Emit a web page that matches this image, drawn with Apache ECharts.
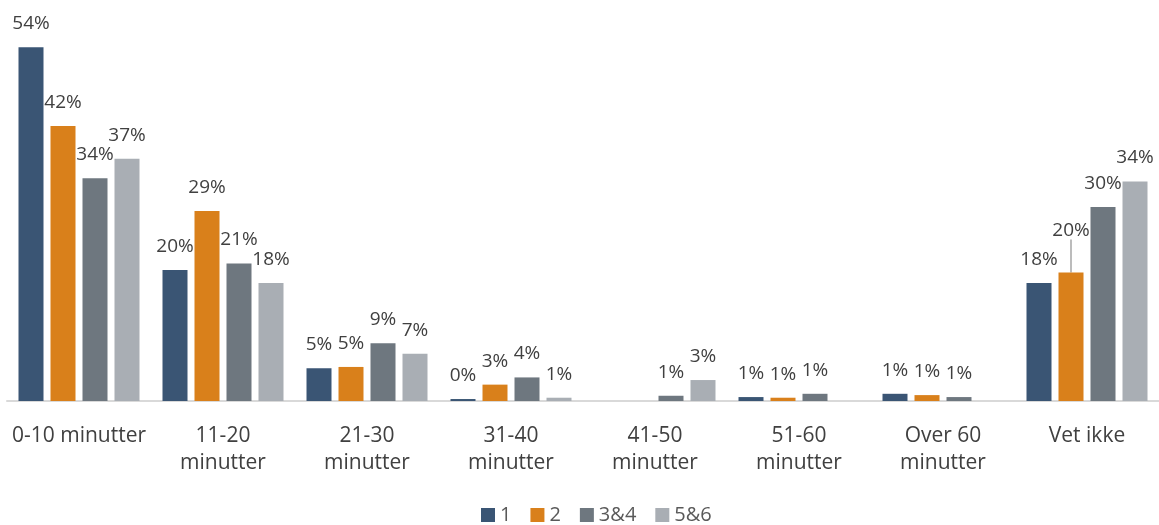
<!DOCTYPE html>
<html>
<head>
<meta charset="utf-8">
<script src="https://cdn.jsdelivr.net/npm/echarts@6/dist/echarts.min.js"></script>
<style>html,body{margin:0;padding:0;background:#fff}#c{width:1159px;height:525px}</style>
</head>
<body>
<div id="c"></div>
<script>
const categories = ['0-10 minutter', '11-20\nminutter', '21-30\nminutter', '31-40\nminutter', '41-50\nminutter', '51-60\nminutter', 'Over 60\nminutter', 'Vet ikke'];
const seriesNames = ['1', '2', '3&4', '5&6'];
const s1 = [54, 20, 5, 0.3, null, 0.6, 1.1, 18];
const s2 = [42, 29, 5.2, 2.5, null, 0.5, 0.9, 19.6];
const s3 = [34, 21, 8.8, 3.6, 0.8, 1.1, 0.6, 29.6];
const s4 = [37, 18, 7.2, 0.5, 3.2, null, null, 33.5];
const colors = ['#3A5574', '#D9801B', '#6E777F', '#A9AEB4'];

const chart = echarts.init(document.getElementById('c'));
const font = 'Open Sans';
const all = [s1, s2, s3, s4];
const series = all.map((d, i) => ({
  name: seriesNames[i],
  type: 'bar',
  data: d.map((v, j) => (i === 1 && j === 7)
    ? { value: v, labelLine: { show: true, lineStyle: { color: '#A6A6A6', width: 1.5 } } }
    : v),
  barWidth: 25,
  barGap: '28%',
  itemStyle: { color: colors[i] },
  label: {
    show: true,
    position: 'top',
    distance: 14,
    color: '#404040',
    fontSize: 19,
    fontFamily: font,
    formatter: p => Math.round(p.value) + '%'
  },
  labelLayout: i === 1 ? (p => p.dataIndex === 7 ? { dy: -19 } : {}) : undefined,
  labelLine: { show: false }
}));

chart.setOption({
  animation: false,
  textStyle: { fontFamily: font },
  grid: { left: 7, right: 0, top: 8, bottom: 124 },
  legend: {
    top: 500,
    left: 476,
    itemWidth: 14,
    itemHeight: 14,
    itemGap: 19,
    icon: 'rect',
    textStyle: { color: '#595959', fontSize: 20, fontFamily: font },
    data: seriesNames
  },
  xAxis: {
    type: 'category',
    data: categories,
    axisTick: { show: false },
    axisLine: { lineStyle: { color: '#D9D9D9', width: 2 } },
    axisLabel: { color: '#404040', fontSize: 21, fontFamily: font, margin: 22, lineHeight: 27, interval: 0 }
  },
  yAxis: {
    type: 'value',
    min: 0,
    max: 60,
    show: false,
    splitLine: { show: false }
  },
  series: series
});
</script>
</body>
</html>
